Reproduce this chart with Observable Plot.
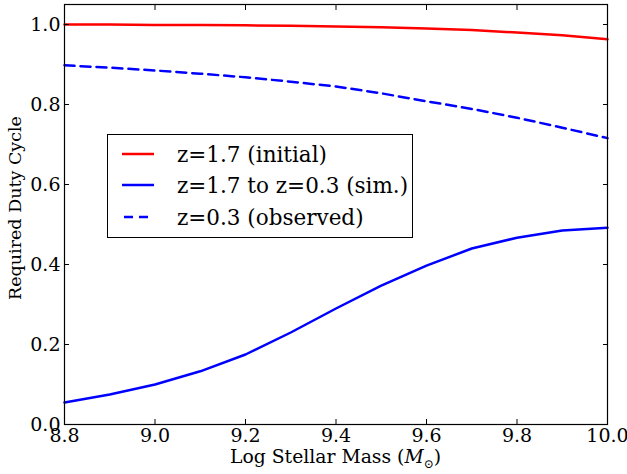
<!DOCTYPE html>
<html>
<head>
<meta charset="utf-8">
<script src="https://cdn.jsdelivr.net/npm/d3@7"></script>
<script src="https://cdn.jsdelivr.net/npm/@observablehq/plot@0.6"></script>
<style>
  body { margin: 0; background: #fff; }
  #wrap { position: relative; width: 627px; height: 474px; font-family: "DejaVu Serif", serif; }
  #wrap svg text { font-family: "DejaVu Serif", serif !important; }
  #legend { position: absolute; left: 107px; top: 134px; width: 306px; height: 104px; border: 1px solid #000; background: #fff; box-sizing: border-box; font-size: 21.5px; font-family: "DejaVu Serif", serif; }
  .row { position: absolute; left: 0; height: 26px; display: flex; align-items: center; white-space: nowrap; }
  .row svg { margin-left: 13px; margin-right: 22px; }
  #xlabel { position: absolute; left: 64px; width: 543px; text-align: center; top: 446px; font-size: 18.8px; white-space: nowrap; }
  #ylabel { position: absolute; left: 15px; top: 208px; font-size: 17.5px; transform: translate(-50%, -50%) rotate(-90deg); white-space: nowrap; }
</style>
</head>
<body>
<div id="wrap"></div>
<script>
const mass = [8.8, 8.9, 9.0, 9.1, 9.2, 9.3, 9.4, 9.5, 9.6, 9.7, 9.8, 9.9, 10.0];
const initial = [1.000, 1.000, 0.999, 0.999, 0.998, 0.997, 0.995, 0.993, 0.990, 0.986, 0.980, 0.973, 0.963];
const sim = [0.055, 0.075, 0.100, 0.133, 0.175, 0.230, 0.290, 0.347, 0.397, 0.440, 0.467, 0.485, 0.492];
const observed = [0.898, 0.892, 0.885, 0.877, 0.868, 0.857, 0.845, 0.828, 0.808, 0.789, 0.767, 0.742, 0.716];
const xTicks = [8.8, 9.0, 9.2, 9.4, 9.6, 9.8, 10.0];
const yTicks = [0.0, 0.2, 0.4, 0.6, 0.8, 1.0];

const series = [
  {name: "z=1.7 (initial)", values: initial, color: "#ff0000", dash: null},
  {name: "z=1.7 to z=0.3 (sim.)", values: sim, color: "#0000ff", dash: null},
  {name: "z=0.3 (observed)", values: observed, color: "#0000ff", dash: "10,6"}
];

const rows = series.flatMap(s => mass.map((m, i) => ({x: m, y: s.values[i], name: s.name})));

const fmt = d3.format(".1f");
const chart = Plot.plot({
  width: 627,
  height: 474,
  marginLeft: 64,
  marginRight: 20,
  marginTop: 4,
  marginBottom: 50,
  style: {fontFamily: "'DejaVu Serif', serif", fontSize: "19px", color: "#000", background: "#fff"},
  x: {domain: [8.8, 10.0]},
  y: {domain: [0, 1.05]},
  marks: [
    ...series.map(s => Plot.line(rows.filter(r => r.name === s.name), {
      x: "x", y: "y", stroke: s.color, strokeWidth: 2.5, strokeDasharray: s.dash
    })),
    Plot.frame({stroke: "#000", strokeWidth: 1.2}),
    Plot.axisX(xTicks, {anchor: "bottom", tickSize: -5, tickPadding: 9, tickFormat: fmt, label: null, fontSize: 19}),
    Plot.axisX(xTicks, {anchor: "top", tickSize: -5, tickFormat: () => "", label: null}),
    Plot.axisY(yTicks, {anchor: "left", tickSize: -5, tickPadding: 9, tickFormat: fmt, label: null, fontSize: 19}),
    Plot.axisY(yTicks, {anchor: "right", tickSize: -5, tickFormat: () => "", label: null})
  ]
});

const wrap = document.getElementById("wrap");
wrap.appendChild(chart);

const legend = document.createElement("div");
legend.id = "legend";
const centers = [19, 50, 82];
series.forEach((s, i) => {
  const row = document.createElement("div");
  row.className = "row";
  row.style.top = (centers[i] - 13) + "px";
  row.innerHTML = `<svg width="34" height="6"><line x1="1" y1="3" x2="33" y2="3" stroke="${s.color}" stroke-width="2.5" ${s.dash ? `stroke-dasharray="9,6" stroke-dashoffset="-2"` : ""}/></svg><span>${s.name}</span>`;
  legend.appendChild(row);
});
wrap.appendChild(legend);

const xl = document.createElement("div");
xl.id = "xlabel";
xl.innerHTML = "Log Stellar Mass (<i>M</i><sub style='font-size:12px'>⊙</sub>)";
wrap.appendChild(xl);

const yl = document.createElement("div");
yl.id = "ylabel";
yl.textContent = "Required Duty Cycle";
wrap.appendChild(yl);
</script>
</body>
</html>
